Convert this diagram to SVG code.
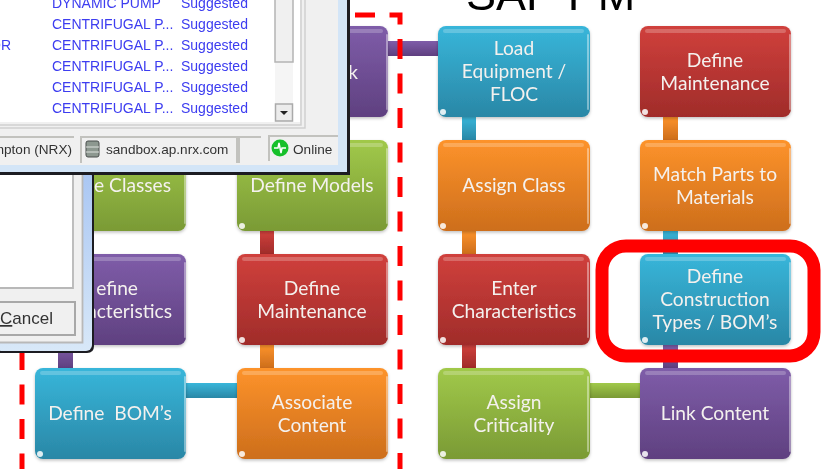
<svg xmlns="http://www.w3.org/2000/svg" width="821" height="469" viewBox="0 0 821 469">
<style>
.t{font-family:"Lato","Open Sans","Liberation Sans",sans-serif;font-size:19.2px;fill:#f4f1ee;text-anchor:middle}
.e{text-anchor:end}
.hi{fill:#fff;opacity:.22}
.edge{fill:#fff;opacity:.4}
.c{fill:#fff;opacity:.85}
.w{font-family:"Liberation Sans",Arial,sans-serif;font-size:14px;fill:#3c3cf0}
.s{font-family:"Liberation Sans",Arial,sans-serif;font-size:13.6px;fill:#333}
.cell{fill:none;stroke:#c2c2be;stroke-width:2}
.dash{fill:none;stroke:#f00;stroke-width:5;stroke-dasharray:20 14.5}
</style>
<defs>
<linearGradient id="blue" x1="0" y1="0" x2="0" y2="1"><stop offset="0" stop-color="#38b6da"/><stop offset="1" stop-color="#2a87a6"/></linearGradient>
<linearGradient id="orange" x1="0" y1="0" x2="0" y2="1"><stop offset="0" stop-color="#fd932b"/><stop offset="1" stop-color="#cd6e1c"/></linearGradient>
<linearGradient id="red" x1="0" y1="0" x2="0" y2="1"><stop offset="0" stop-color="#d0403c"/><stop offset="1" stop-color="#a02c2a"/></linearGradient>
<linearGradient id="green" x1="0" y1="0" x2="0" y2="1"><stop offset="0" stop-color="#a1c94a"/><stop offset="1" stop-color="#7a9a35"/></linearGradient>
<linearGradient id="purple" x1="0" y1="0" x2="0" y2="1"><stop offset="0" stop-color="#7f5da9"/><stop offset="1" stop-color="#5f4080"/></linearGradient>
<linearGradient id="frame" x1="0" y1="0" x2="0" y2="1"><stop offset="0" stop-color="#a9c6f3"/><stop offset="1" stop-color="#d8e8f8"/></linearGradient>
<filter id="soft" x="-2%" y="-2%" width="104%" height="104%"><feGaussianBlur stdDeviation="0.45"/></filter>
<filter id="sh" x="-5%" y="-5%" width="110%" height="112%"><feDropShadow dx="0" dy="1.5" stdDeviation="1.5" flood-color="#000" flood-opacity=".25"/></filter>
<g id="card"><rect class="hi" x="5" y="3" width="141" height="4" rx="2"/><rect class="edge" x="149" y="8" width="2" height="76" rx="1"/><circle class="c" cx="5" cy="86" r="3"/></g>
</defs>
<rect width="821" height="469" fill="#fff"/>
<g filter="url(#soft)">
<text x="466" y="10" font-family="Liberation Sans,Arial,sans-serif" font-size="45" fill="#000">SAP PM</text>
<g id="connectors">
<rect x="388" y="41" width="50" height="15" fill="url(#purple)"/>
<rect x="260" y="231" width="14" height="23" fill="url(#red)"/>
<rect x="260" y="345" width="14" height="23" fill="url(#orange)"/>
<rect x="186" y="383" width="51" height="15" fill="url(#blue)"/>
<rect x="58" y="345" width="15" height="23" fill="url(#purple)"/>
<rect x="462" y="117" width="14" height="23" fill="url(#blue)"/>
<rect x="462" y="231" width="14" height="23" fill="url(#orange)"/>
<rect x="462" y="345" width="14" height="23" fill="url(#red)"/>
<rect x="590" y="383" width="50" height="15" fill="url(#green)"/>
<rect x="663" y="345" width="15" height="23" fill="url(#purple)"/>
<rect x="663" y="231" width="15" height="23" fill="url(#blue)"/>
<rect x="663" y="117" width="15" height="23" fill="url(#orange)"/>
</g>
<g id="n-top"><rect x="237" y="26" width="151" height="91" rx="8" fill="url(#purple)" filter="url(#sh)"/><use href="#card" x="237" y="26"/><text class="t" x="353" y="79">k</text></g>
<g id="n-classes"><rect x="35" y="140" width="151" height="91" rx="8" fill="url(#green)" filter="url(#sh)"/><use href="#card" x="35" y="140"/><text class="t e" x="171" y="192">e Classes</text></g>
<g id="n-models"><rect x="237" y="140" width="151" height="91" rx="8" fill="url(#green)" filter="url(#sh)"/><use href="#card" x="237" y="140"/><text class="t" x="312" y="192">Define Models</text></g>
<g id="n-char"><rect x="35" y="254" width="151" height="91" rx="8" fill="url(#purple)" filter="url(#sh)"/><use href="#card" x="35" y="254"/><text class="t e" x="138" y="295">efine</text><text class="t e" x="172" y="318">acteristics</text></g>
<g id="n-maint"><rect x="237" y="254" width="151" height="91" rx="8" fill="url(#red)" filter="url(#sh)"/><use href="#card" x="237" y="254"/><text class="t" x="312" y="295">Define</text><text class="t" x="312" y="318">Maintenance</text></g>
<g id="n-bom"><rect x="35" y="368" width="151" height="91" rx="8" fill="url(#blue)" filter="url(#sh)"/><use href="#card" x="35" y="368"/><text class="t" x="110" y="420" xml:space="preserve">Define  BOM’s</text></g>
<g id="n-assoc"><rect x="237" y="368" width="151" height="91" rx="8" fill="url(#orange)" filter="url(#sh)"/><use href="#card" x="237" y="368"/><text class="t" x="312" y="409">Associate</text><text class="t" x="312" y="432">Content</text></g>
<g id="n-load"><rect x="438" y="26" width="152" height="91" rx="8" fill="url(#blue)" filter="url(#sh)"/><use href="#card" x="438" y="26"/><text class="t" x="514" y="55">Load</text><text class="t" x="514" y="78">Equipment /</text><text class="t" x="514" y="101">FLOC</text></g>
<g id="n-class"><rect x="438" y="140" width="152" height="91" rx="8" fill="url(#orange)" filter="url(#sh)"/><use href="#card" x="438" y="140"/><text class="t" x="514" y="192">Assign Class</text></g>
<g id="n-enter"><rect x="438" y="254" width="152" height="91" rx="8" fill="url(#red)" filter="url(#sh)"/><use href="#card" x="438" y="254"/><text class="t" x="514" y="295">Enter</text><text class="t" x="514" y="318">Characteristics</text></g>
<g id="n-crit"><rect x="438" y="368" width="152" height="91" rx="8" fill="url(#green)" filter="url(#sh)"/><use href="#card" x="438" y="368"/><text class="t" x="514" y="409">Assign</text><text class="t" x="514" y="432">Criticality</text></g>
<g id="n-defm"><rect x="640" y="26" width="151" height="91" rx="8" fill="url(#red)" filter="url(#sh)"/><use href="#card" x="640" y="26"/><text class="t" x="715" y="67">Define</text><text class="t" x="715" y="90">Maintenance</text></g>
<g id="n-match"><rect x="640" y="140" width="151" height="91" rx="8" fill="url(#orange)" filter="url(#sh)"/><use href="#card" x="640" y="140"/><text class="t" x="715" y="181">Match Parts to</text><text class="t" x="715" y="204">Materials</text></g>
<g id="n-constr"><rect x="640" y="254" width="151" height="91" rx="8" fill="url(#blue)" filter="url(#sh)"/><use href="#card" x="640" y="254"/><text class="t" x="715" y="283">Define</text><text class="t" x="715" y="306">Construction</text><text class="t" x="715" y="329">Types / BOM’s</text></g>
<g id="n-link"><rect x="640" y="368" width="151" height="91" rx="8" fill="url(#purple)" filter="url(#sh)"/><use href="#card" x="640" y="368"/><text class="t" x="715" y="420">Link Content</text></g>
<path class="dash" d="M355 15H400V469"/>
<path class="dash" d="M22 350V469"/>
<rect x="602" y="246" width="212" height="110" rx="24" fill="none" stroke="#f00" stroke-width="13"/>
<g id="window-lower">
<path d="M-5 170H94V346q0 7 -7 7H-5Z" fill="#1c1c20"/>
<rect x="-5" y="170" width="97" height="181" rx="6" fill="url(#frame)"/>
<rect x="-5" y="170" width="88" height="173" fill="#f0f0f0"/>
<rect x="-5" y="170" width="77" height="117" fill="#fff"/>
<path d="M73 170V288H-5M82.500 170V342.500H-5" fill="none" stroke="#b8b8b8" stroke-width="1.800"/>
<path d="M-5 302H75V335H-5" fill="#f0f0f0" stroke="#a8a8a8" stroke-width="2"/>
<text x="0" y="324" font-family="Liberation Sans,Arial,sans-serif" font-size="17" fill="#333"><tspan text-decoration="underline">C</tspan>ancel</text>
</g>
<g id="window-upper">
<rect x="-5" y="-5" width="355" height="180" fill="#1c1c20"/>
<rect x="-5" y="-5" width="352" height="177" fill="#d3e5f7"/>
<rect x="-5" y="-5" width="343" height="170" fill="#f0f0f0"/>
<rect x="-5" y="-5" width="305" height="127" fill="#fff"/>
<rect x="275" y="-5" width="18" height="127" fill="#f5f5f5"/>
<rect x="275" y="-5" width="18" height="67" fill="#f0f0f0" stroke="#b4b4b4" stroke-width="1.500"/>
<rect x="275.500" y="104" width="17" height="17" fill="#ececec" stroke="#aaa" stroke-width="1.500"/>
<path d="M280 111H288L284 115Z" fill="#222"/>
<path d="M-5 125H301V-5M305 -5V128H-5" fill="none" stroke="#cfcfcf" stroke-width="1.500"/>
<path d="M-5 137H74M81 163V137H237V163M239 163V137H261M269 161V136H338" class="cell"/>
<text class="w" x="52" y="8">DYNAMIC PUMP</text><text class="w" x="181" y="8">Suggested</text>
<text class="w" x="52" y="29">CENTRIFUGAL P...</text><text class="w" x="181" y="29">Suggested</text>
<text class="w" x="-10" y="50">OR</text><text class="w" x="52" y="50">CENTRIFUGAL P...</text><text class="w" x="181" y="50">Suggested</text>
<text class="w" x="52" y="71">CENTRIFUGAL P...</text><text class="w" x="181" y="71">Suggested</text>
<text class="w" x="52" y="92">CENTRIFUGAL P...</text><text class="w" x="181" y="92">Suggested</text>
<text class="w" x="52" y="113">CENTRIFUGAL P...</text><text class="w" x="181" y="113">Suggested</text>
<text class="s" x="72" y="154" text-anchor="end">mpton (NRX)</text>
<rect x="86" y="141" width="13" height="16" rx="2" fill="#8d9890" stroke="#4a4f4c"/><path d="M86 147H99M86 152H99" stroke="#dfe3df"/>
<text class="s" x="106" y="154">sandbox.ap.nrx.com</text>
<circle cx="280" cy="148" r="8.500" fill="#18c02c"/><path d="M274 148H278L279 143L281 153L282 148H286" fill="none" stroke="#fff" stroke-width="1.500"/>
<text class="s" x="293" y="154">Online</text>
</g>
</g>
</svg>
